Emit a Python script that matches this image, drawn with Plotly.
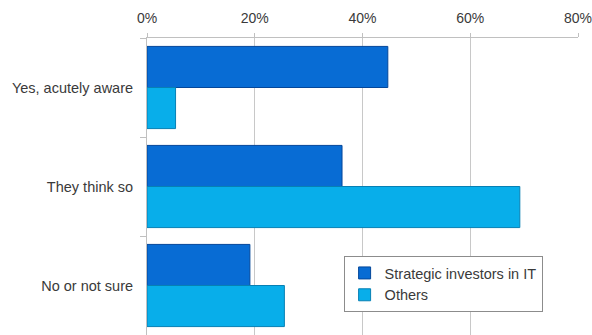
import plotly.graph_objects as go

categories = ["Yes, acutely aware", "They think so", "No or not sure"]
strategic = [44.7, 36.2, 19.1]
others = [5.3, 69.2, 25.5]
x_ticks = [0, 20, 40, 60, 80]
x_tick_labels = ["0%", "20%", "40%", "60%", "80%"]

FONT = "Liberation Sans, Arial, sans-serif"

fig = go.Figure()
fig.add_trace(go.Bar(
    name="Strategic investors in IT",
    y=categories, x=strategic, orientation="h",
    marker=dict(color="#086cd4", line=dict(color="#04479a", width=1)),
))
fig.add_trace(go.Bar(
    name="Others",
    y=categories, x=others, orientation="h",
    marker=dict(color="#08aeea", line=dict(color="#0780b4", width=1)),
))

fig.update_layout(
    width=592, height=335,
    margin=dict(l=147, r=14, t=38, b=0),
    paper_bgcolor="white", plot_bgcolor="white",
    barmode="group", bargap=0.17, bargroupgap=0,
    font=dict(family=FONT, size=14.5, color="#3a3a3a"),
    showlegend=True,
    legend=dict(
        x=0.687, y=0.266, xanchor="center", yanchor="top",
        bgcolor="white", bordercolor="#8c8c8c", borderwidth=1,
        font=dict(family=FONT, size=14.5, color="#3a3a3a"),
        itemwidth=30, tracegroupgap=0,
    ),
    xaxis=dict(
        side="top", range=[0, 80],
        tickvals=x_ticks, ticktext=x_tick_labels,
        tickfont=dict(size=14),
        ticklabeloverflow="allow",
        showgrid=True, gridcolor="#c8c8c8", gridwidth=1,
        ticks="outside", ticklen=4, tickcolor="#c0c0c0",
        showline=True, linecolor="#c0c0c0", linewidth=1,
        zeroline=False, fixedrange=True, ticklabelstandoff=4,
    ),
    yaxis=dict(
        autorange="reversed", type="category",
        ticks="outside", tickson="boundaries", ticklen=6, tickcolor="#c0c0c0",
        showline=True, linecolor="#c0c0c0", linewidth=1,
        showgrid=False, ticklabelstandoff=10, fixedrange=True,
    ),
)

fig.write_html("out.html")
